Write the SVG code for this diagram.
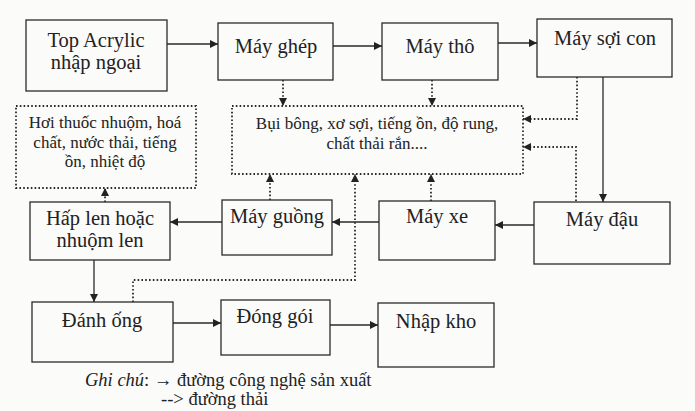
<svg xmlns="http://www.w3.org/2000/svg" width="695" height="411" viewBox="0 0 695 411">
<defs>
<style>
.box{fill:none;stroke:#2a2a2a;stroke-width:1.3}
.dbox{fill:none;stroke:#2a2a2a;stroke-width:1.8;stroke-dasharray:1.6 2.2}
.ln{fill:none;stroke:#2a2a2a;stroke-width:1.3}
.dl{fill:none;stroke:#2a2a2a;stroke-width:1.8;stroke-dasharray:1.6 2.2}
text{font-family:'Liberation Serif','Times New Roman',serif;fill:#222}
.t{font-size:20.5px;text-anchor:middle}
.s{font-size:17px;text-anchor:middle}
.g{font-size:18.5px}
</style>
<marker id="ah" viewBox="0 0 10 10" refX="10" refY="5" markerWidth="8" markerHeight="8" markerUnits="userSpaceOnUse" orient="auto">
<path d="M0,0 L10,5 L0,10 z" fill="#222"/>
</marker>
<marker id="dh" viewBox="0 0 10 10" refX="10" refY="5" markerWidth="8" markerHeight="8" markerUnits="userSpaceOnUse" orient="auto">
<path d="M0,0 L10,5 L0,10 z" fill="#222"/>
</marker>
</defs>
<rect x="0" y="0" width="695" height="411" fill="#fbfbfa"/>

<g id="connectors">
<line class="ln" x1="167" y1="44" x2="218" y2="44" marker-end="url(#ah)"/>
<line class="ln" x1="333" y1="46" x2="382" y2="46" marker-end="url(#ah)"/>
<line class="ln" x1="498" y1="43" x2="537" y2="43" marker-end="url(#ah)"/>
<line class="ln" x1="603" y1="77" x2="603" y2="202" marker-end="url(#ah)"/>
<line class="ln" x1="534" y1="225" x2="495" y2="225" marker-end="url(#ah)"/>
<line class="ln" x1="379" y1="222" x2="332" y2="222" marker-end="url(#ah)"/>
<line class="ln" x1="222" y1="222" x2="170" y2="222" marker-end="url(#ah)"/>
<line class="ln" x1="94" y1="260" x2="94" y2="302" marker-end="url(#ah)"/>
<line class="ln" x1="173" y1="323" x2="221" y2="323" marker-end="url(#ah)"/>
<line class="ln" x1="330" y1="325" x2="378" y2="325" marker-end="url(#ah)"/>

<line class="dl" x1="283" y1="80" x2="283" y2="106" marker-end="url(#dh)"/>
<line class="dl" x1="432" y1="80" x2="432" y2="106" marker-end="url(#dh)"/>
<polyline class="dl" points="577,77 577,119 523,119" marker-end="url(#dh)"/>
<polyline class="dl" points="576,201 576,147 523,147" marker-end="url(#dh)"/>
<line class="dl" x1="270" y1="200" x2="270" y2="174" marker-end="url(#dh)"/>
<line class="dl" x1="431" y1="201" x2="431" y2="174" marker-end="url(#dh)"/>
<polyline class="dl" points="133,302 133,280 355,280 355,174" marker-end="url(#dh)"/>
<line class="dl" x1="105" y1="202" x2="105" y2="188" marker-end="url(#dh)"/>
</g>

<g id="n-top">
<rect class="box" x="26" y="20" width="141" height="71"/>
<text class="t" x="96" y="47">Top Acrylic</text>
<text class="t" x="96" y="69">nhập ngoại</text>
</g>
<g id="n-ghep">
<rect class="box" x="218" y="23" width="115" height="57"/>
<text class="t" x="276" y="53">Máy ghép</text>
</g>
<g id="n-tho">
<rect class="box" x="382" y="23" width="116" height="57"/>
<text class="t" x="440" y="53">Máy thô</text>
</g>
<g id="n-soicon">
<rect class="box" x="537" y="19" width="135" height="58"/>
<text class="t" x="605" y="45">Máy sợi con</text>
</g>
<g id="n-hoi">
<rect class="dbox" x="16" y="106" width="180" height="82"/>
<text class="s" x="105" y="128">Hơi thuốc nhuộm, hoá</text>
<text class="s" x="105" y="148">chất, nước thải, tiếng</text>
<text class="s" x="105" y="167">ồn, nhiệt độ</text>
</g>
<g id="n-bui">
<rect class="dbox" x="232" y="106" width="291" height="68"/>
<text class="s" x="377" y="129">Bụi bông, xơ sợi, tiếng ồn, độ rung,</text>
<text class="s" x="377" y="149">chất thải rắn....</text>
</g>
<g id="n-hap">
<rect class="box" x="30" y="202" width="140" height="58"/>
<text class="t" x="100" y="225">Hấp len hoặc</text>
<text class="t" x="100" y="247">nhuộm len</text>
</g>
<g id="n-guong">
<rect class="box" x="222" y="200" width="110" height="55"/>
<text class="t" x="277" y="223">Máy guồng</text>
</g>
<g id="n-xe">
<rect class="box" x="379" y="201" width="116" height="59"/>
<text class="t" x="437" y="223">Máy xe</text>
</g>
<g id="n-dau">
<rect class="box" x="534" y="202" width="136" height="62"/>
<text class="t" x="602" y="226">Máy đậu</text>
</g>
<g id="n-danhong">
<rect class="box" x="32" y="302" width="141" height="60"/>
<text class="t" x="102" y="327">Đánh ống</text>
</g>
<g id="n-donggoi">
<rect class="box" x="221" y="300" width="109" height="55"/>
<text class="t" x="275" y="323">Đóng gói</text>
</g>
<g id="n-nhapkho">
<rect class="box" x="378" y="303" width="116" height="64"/>
<text class="t" x="436" y="328">Nhập kho</text>
</g>

<g id="legend">
<text class="g" x="85" y="386"><tspan font-style="italic">Ghi chú</tspan>:  → đường công nghệ sản xuất</text>
<text class="g" x="161" y="405">--&gt; đường thải</text>
</g>
</svg>
